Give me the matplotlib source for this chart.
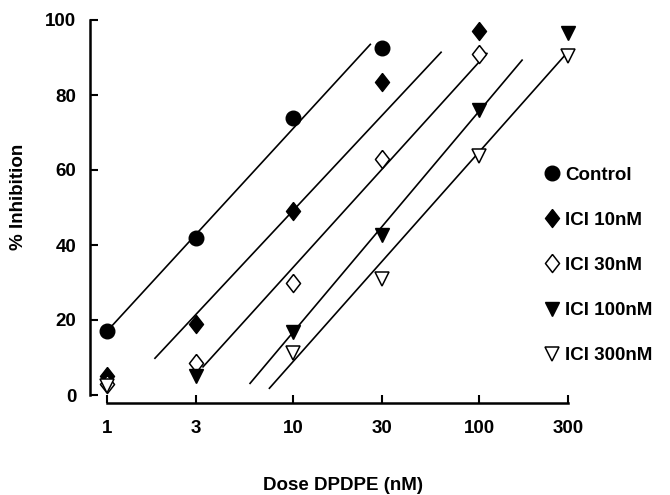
import matplotlib
matplotlib.use("Agg")
import matplotlib.pyplot as plt
from matplotlib.lines import Line2D

plt.rcParams['font.family'] = ['Liberation Sans', 'DejaVu Sans']
plt.rcParams['font.weight'] = 'bold'

# ---- data ----
doses = [1, 3, 10, 30, 100, 300]
tick_labels = ["1", "3", "10", "30", "100", "300"]
y_ticks = [0, 20, 40, 60, 80, 100]

labels = ["Control", "ICI 10nM", "ICI 30nM", "ICI 100nM", "ICI 300nM"]

control_x = [1, 3, 10, 30]
control_y = [17, 42, 74, 92.5]
ici10_x = [1, 3, 10, 30, 100]
ici10_y = [5, 19, 49, 83.5, 97]
ici30_x = [1, 3, 10, 30, 100]
ici30_y = [3, 8.5, 30, 63, 91]
ici100_x = [3, 10, 30, 100, 300]
ici100_y = [5, 16.8, 42.8, 76, 96.5]
ici300_x = [1, 10, 30, 100, 300]
ici300_y = [2.5, 11.3, 31, 63.8, 90.5]

# fitted regression lines (start/end dose, start/end % inhibition)
line_x0 = [1, 1.81, 3.28, 5.87, 7.46]
line_x1 = [26, 62.4, 110, 170, 290]
line_y0 = [17, 9.8, 7.5, 3.1, 1.8]
line_y1 = [93.5, 91.4, 91.1, 89.3, 90.7]

# ---- figure ----
W, H = 670, 495
FS = 13.5
fig = plt.figure(figsize=(W / 100, H / 100), dpi=100)
ax = fig.add_axes([107 / W, (H - 395) / H, (568 - 107) / W, (395 - 20) / H])
ax.set_xscale('log')
ax.set_xlim(1, 300)
ax.set_ylim(0, 100)

diamond = [(0, 1), (0.78, 0), (0, -1), (-0.78, 0), (0, 1)]
styles = [
    dict(marker='o', ms=10.5, mfc='black', mec='black'),
    dict(marker=diamond, ms=13, mfc='black', mec='black'),
    dict(marker=diamond, ms=13, mfc='white', mec='black', mew=1.1),
    dict(marker='v', ms=10, mfc='black', mec='black'),
    dict(marker='v', ms=10, mfc='white', mec='black', mew=1.1),
]
series = [(control_x, control_y), (ici10_x, ici10_y), (ici30_x, ici30_y),
          (ici100_x, ici100_y), (ici300_x, ici300_y)]

for i in range(5):
    ax.plot([line_x0[i], line_x1[i]], [line_y0[i], line_y1[i]],
            color='black', lw=1.2, zorder=2, clip_on=False)
handles = []
for (xs, ys), st, lab in zip(series, styles, labels):
    ax.plot(xs, ys, ls='none', zorder=3, clip_on=False, **st)
    handles.append(Line2D([], [], ls='none', **st))

# spines
for s in ['top', 'right']:
    ax.spines[s].set_visible(False)
ax.spines['left'].set_position(('outward', 12))
ax.spines['bottom'].set_position(('outward', 6))
ax.spines['left'].set_linewidth(1.8)
ax.spines['bottom'].set_linewidth(1.8)

ax.set_xticks(doses)
ax.set_xticklabels(tick_labels)
ax.xaxis.set_minor_locator(matplotlib.ticker.NullLocator())
ax.set_yticks(y_ticks)
ax.tick_params(axis='both', direction='in', length=6, width=1.5,
               labelsize=FS)
ax.tick_params(axis='x', pad=12)
ax.tick_params(axis='y', pad=10)
for t in ax.get_xticklabels() + ax.get_yticklabels():
    t.set_fontweight('bold')

ax.set_xlabel("Dose DPDPE (nM)", fontsize=FS, fontweight='bold', va='center')
ax.xaxis.set_label_coords(0.512, -0.24)
ax.set_ylabel("% Inhibition", fontsize=FS, fontweight='bold', va='center')
ax.yaxis.set_label_coords(-0.193, 0.528)

leg = fig.legend(handles, labels, loc='upper left',
                 bbox_to_anchor=(531 / W, (H - 157) / H),
                 frameon=False, fontsize=FS, labelspacing=1.5,
                 handletextpad=0.1, handlelength=1.2, borderpad=0)
for t in leg.get_texts():
    t.set_fontweight('bold')

fig.savefig("out.png", dpi=100)
